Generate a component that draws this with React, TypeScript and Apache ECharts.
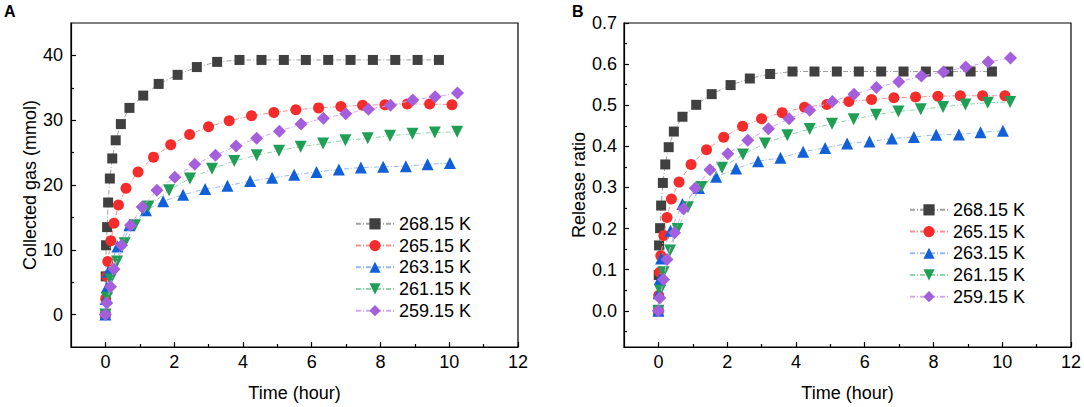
import React, { useEffect, useRef } from "react";
import * as echarts from "echarts";

const seriesNames = ["268.15 K", "265.15 K", "263.15 K", "261.15 K", "259.15 K"];

// Time (hour) of each measurement, per temperature
const time268 = [0, 0.01, 0.02, 0.05, 0.08, 0.13, 0.2, 0.3, 0.45, 0.7, 1.1, 1.55, 2.1, 2.66, 3.25, 3.9, 4.54, 5.19, 5.83, 6.48, 7.13, 7.78, 8.43, 9.08, 9.7];
const time265 = [0, 0.01, 0.04, 0.07, 0.16, 0.25, 0.38, 0.6, 0.95, 1.4, 1.9, 2.45, 3.0, 3.6, 4.25, 4.9, 5.54, 6.2, 6.85, 7.48, 8.13, 8.78, 9.43, 10.08];
const time263 = [0, 0.01, 0.04, 0.08, 0.35, 0.7, 1.18, 1.68, 2.26, 2.9, 3.55, 4.21, 4.85, 5.49, 6.14, 6.79, 7.43, 8.08, 8.74, 9.37, 10.02];
const time261 = [0, 0.05, 0.15, 0.34, 0.56, 0.86, 1.25, 1.85, 2.46, 3.1, 3.75, 4.4, 5.05, 5.68, 6.33, 6.98, 7.63, 8.28, 8.93, 9.58, 10.23];
const time259 = [0, 0.04, 0.15, 0.25, 0.47, 0.73, 1.07, 1.5, 2.02, 2.6, 3.2, 3.8, 4.4, 5.06, 5.69, 6.34, 6.99, 7.65, 8.29, 8.94, 9.59, 10.24];

// Panel A: collected gas (mmol)
const gas268 = [0, 5.9, 10.7, 13.5, 17.3, 21.0, 24.1, 26.9, 29.4, 31.9, 33.8, 35.6, 37.0, 38.2, 39.0, 39.3, 39.3, 39.3, 39.3, 39.3, 39.3, 39.3, 39.3, 39.3, 39.3];
const gas265 = [0, 2.5, 5.9, 8.2, 11.4, 14.1, 16.9, 19.5, 22.0, 24.3, 26.2, 27.8, 29.0, 29.9, 30.7, 31.2, 31.6, 31.9, 32.1, 32.3, 32.4, 32.5, 32.5, 32.4];
const gas263 = [0, 2.4, 4.2, 6.6, 10.5, 13.8, 16.1, 17.5, 18.5, 19.4, 19.9, 20.6, 21.1, 21.6, 22.0, 22.4, 22.7, 22.8, 22.9, 23.2, 23.4];
const gas261 = [0, 2.6, 5.4, 8.2, 11.0, 13.8, 16.7, 19.2, 21.0, 22.5, 23.7, 24.6, 25.3, 25.9, 26.4, 26.9, 27.2, 27.6, 27.9, 28.1, 28.2];
const gas259 = [0, 1.8, 4.3, 7.0, 10.7, 13.8, 16.6, 19.2, 21.2, 23.2, 24.6, 26.0, 27.2, 28.3, 29.4, 30.3, 31.0, 31.7, 32.3, 33.1, 33.6, 34.2];

// Panel B: release ratio
const ratio268 = [0, 0.087, 0.159, 0.201, 0.256, 0.311, 0.356, 0.398, 0.436, 0.472, 0.501, 0.527, 0.549, 0.565, 0.576, 0.582, 0.582, 0.582, 0.582, 0.582, 0.582, 0.582, 0.582, 0.582, 0.582];
const ratio265 = [0, 0.037, 0.094, 0.134, 0.183, 0.227, 0.272, 0.313, 0.356, 0.392, 0.422, 0.449, 0.467, 0.482, 0.495, 0.502, 0.509, 0.514, 0.518, 0.520, 0.522, 0.523, 0.523, 0.523];
const ratio263 = [0, 0.043, 0.077, 0.127, 0.195, 0.26, 0.299, 0.326, 0.346, 0.364, 0.372, 0.387, 0.396, 0.407, 0.412, 0.419, 0.423, 0.428, 0.429, 0.434, 0.438];
const ratio261 = [0, 0.049, 0.094, 0.147, 0.199, 0.252, 0.301, 0.348, 0.38, 0.407, 0.427, 0.442, 0.455, 0.466, 0.477, 0.485, 0.49, 0.496, 0.502, 0.506, 0.508];
const ratio259 = [0, 0.031, 0.076, 0.125, 0.19, 0.248, 0.298, 0.343, 0.382, 0.415, 0.443, 0.467, 0.488, 0.509, 0.527, 0.543, 0.557, 0.571, 0.581, 0.593, 0.605, 0.615];

// Ticks
const xMajorTicks = [0, 2, 4, 6, 8, 10, 12];
const xMinorTicks = [1, 3, 5, 7, 9, 11];
const gasMajorTicks = [0, 10, 20, 30, 40];
const gasMinorTicks = [5, 15, 25, 35];
const ratioMajorTicks = [0, 0.1, 0.2, 0.3, 0.4, 0.5, 0.6, 0.7];
const ratioMinorTicks = [-0.05, 0.05, 0.15, 0.25, 0.35, 0.45, 0.55, 0.65];

const times = [time268, time265, time263, time261, time259];
const gasValues = [gas268, gas265, gas263, gas261, gas259];
const ratioValues = [ratio268, ratio265, ratio263, ratio261, ratio259];

const FONT = 'Arial, "Liberation Sans", Helvetica, sans-serif';
const FS = 18;

const styles = [
  { symbol: "rect", size: 10, rotate: 0, color: "#404040", line: "#a0a0a0" },
  { symbol: "circle", size: 11, rotate: 0, color: "#f52c2c", line: "#f79090" },
  { symbol: "triangle", size: 12, rotate: 0, color: "#1160d8", line: "#98baf0" },
  { symbol: "triangle", size: 12, rotate: 180, color: "#1f9f55", line: "#8fd3aa" },
  { symbol: "diamond", size: 13, rotate: 0, color: "#a35fdc", line: "#cfaaf0" },
];

const axisColor = "#000";

function xAxes(gridIndex: number) {
  return [
    {
      type: "value",
      gridIndex,
      min: -1,
      max: 12,
      position: "bottom",
      name: "Time (hour)",
      nameLocation: "middle",
      nameGap: 37,
      nameTextStyle: { fontSize: FS, fontFamily: FONT, color: "#000" },
      axisLine: { show: true, onZero: false, lineStyle: { color: axisColor, width: 1.2 } },
      axisTick: { show: true, inside: true, length: 5, customValues: xMajorTicks, lineStyle: { color: axisColor, width: 1.2 } },
      axisLabel: { show: true, customValues: xMajorTicks, margin: 6, fontSize: FS, fontFamily: FONT, color: "#000" },
      splitLine: { show: false },
    },
    {
      type: "value",
      gridIndex,
      min: -1,
      max: 12,
      position: "bottom",
      axisLine: { show: false, onZero: false },
      axisTick: { show: true, inside: true, length: 3, customValues: xMinorTicks, lineStyle: { color: axisColor, width: 1.2 } },
      axisLabel: { show: false },
      splitLine: { show: false },
    },
  ];
}

function yAxes(gridIndex: number, min: number, max: number, major: number[], minor: number[], name: string, nameGap: number, fmt: (v: number) => string, margin: number) {
  return [
    {
      type: "value",
      gridIndex,
      min,
      max,
      position: "left",
      name,
      nameLocation: "middle",
      nameGap,
      nameTextStyle: { fontSize: FS, fontFamily: FONT, color: "#000" },
      axisLine: { show: true, onZero: false, lineStyle: { color: axisColor, width: 1.2 } },
      axisTick: { show: true, inside: true, length: 5, customValues: major, lineStyle: { color: axisColor, width: 1.2 } },
      axisLabel: { show: true, customValues: major, margin, fontSize: FS, fontFamily: FONT, color: "#000", formatter: fmt },
      splitLine: { show: false },
    },
    {
      type: "value",
      gridIndex,
      min,
      max,
      position: "left",
      axisLine: { show: false, onZero: false },
      axisTick: { show: true, inside: true, length: 3, customValues: minor, lineStyle: { color: axisColor, width: 1.2 } },
      axisLabel: { show: false },
      splitLine: { show: false },
    },
  ];
}

function buildSeries(values: number[][], axisIndex: number) {
  return values.map((vals, i) => {
    const st = styles[i];
    return {
      name: seriesNames[i],
      type: "line",
      xAxisIndex: axisIndex,
      yAxisIndex: axisIndex,
      data: times[i].map((t, k) => [t, vals[k]]),
      symbol: st.symbol,
      symbolSize: st.size,
      symbolRotate: st.rotate,
      itemStyle: { color: st.color, borderWidth: 0 },
      lineStyle: { color: st.line, width: 1, type: [5, 2, 1, 2] },
      z: 2 + i,
    };
  });
}

function legend(left: number, top: number) {
  return {
    orient: "vertical",
    left,
    top,
    itemWidth: 38,
    itemHeight: 14,
    itemGap: 0,
    data: seriesNames,
    textStyle: { fontSize: FS, fontFamily: FONT, color: "#000", lineHeight: 21.7 },
  };
}

export default function App() {
  const ref = useRef<HTMLDivElement>(null);
  useEffect(() => {
    if (!ref.current) return;
    const chart = echarts.init(ref.current, undefined, { renderer: "svg" });
    const option = {
      animation: false,
      backgroundColor: "#fff",
      grid: [
        { left: 71, top: 23, width: 447, height: 328, show: true, borderColor: "#000", borderWidth: 1.2, containLabel: false },
        { left: 624, top: 23, width: 447, height: 328, show: true, borderColor: "#000", borderWidth: 1.2, containLabel: false },
      ],
      xAxis: [...xAxes(0), ...xAxes(1)],
      yAxis: [
        ...yAxes(0, -5, 45, gasMajorTicks, gasMinorTicks, "Collected gas (mmol)", 29, (v: number) => String(v), 8),
        ...yAxes(1, -0.088, 0.7, ratioMajorTicks, ratioMinorTicks, "Release ratio", 34, (v: number) => v.toFixed(1), 7),
      ],
      legend: [legend(350, 208), legend(904, 194)],
      graphic: [
        { type: "text", left: 4, top: 3, style: { text: "A", fontSize: 16, fontWeight: "bold", fontFamily: FONT, fill: "#000" } },
        { type: "text", left: 572, top: 3, style: { text: "B", fontSize: 16, fontWeight: "bold", fontFamily: FONT, fill: "#000" } },
      ],
      series: [...buildSeries(gasValues, 0), ...buildSeries(ratioValues, 2)],
    };
    chart.setOption(option as any);
    return () => chart.dispose();
  }, []);
  return <div ref={ref} style={{ position: "fixed", left: 0, top: 0, width: 1084, height: 407, background: "#fff" }} />;
}
